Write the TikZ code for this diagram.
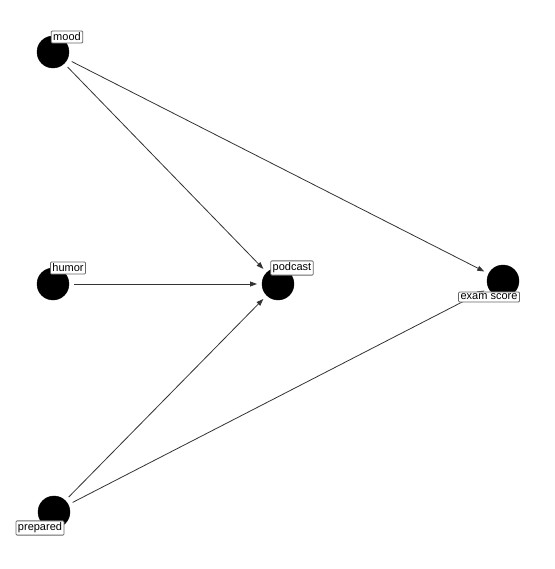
\documentclass[tikz,border=0pt]{standalone}
\usepackage{fontspec}
\setmainfont{Liberation Sans}
\usetikzlibrary{arrows.meta}
\begin{document}
\begin{tikzpicture}[x=1pt,y=-1pt,
  vertex/.style={circle,fill=black,draw=black,minimum size=32pt,inner sep=0pt,outer sep=5pt},
  lab/.style={draw=gray!80!black,fill=white,rounded corners=1pt,inner sep=2pt,line width=0.8pt,
    font=\fontsize{11}{12}\selectfont,text=black},
  edge/.style={draw=black!80,line width=0.8pt,-{Triangle[length=7pt,width=5pt]}}]
\useasboundingbox (0,0) rectangle (554,569);
\fill[white] (0,0) rectangle (554,569);
\node[vertex] (mood) at (53,52) {};
\node[vertex] (humor) at (53,284) {};
\node[vertex] (podcast) at (278,284) {};
\node[vertex] (exam) at (503,281) {};
\node[vertex] (prep) at (54,512) {};
\draw[edge] (mood) -- (podcast);
\draw[edge] (mood) -- (exam);
\draw[edge] (humor) -- (podcast);
\draw[edge] (prep) -- (podcast);
\draw[edge] (prep) -- (exam);
\node[lab] (lmood) at (67,37) {mood};
\node[lab] (lhumor) at (68,268) {humor};
\node[lab] (lpodcast) at (292,268) {podcast};
\node[lab] (lexam) at (489,297) {exam score};
\node[lab] (lprep) at (40,528) {prepared};
\end{tikzpicture}
\end{document}
